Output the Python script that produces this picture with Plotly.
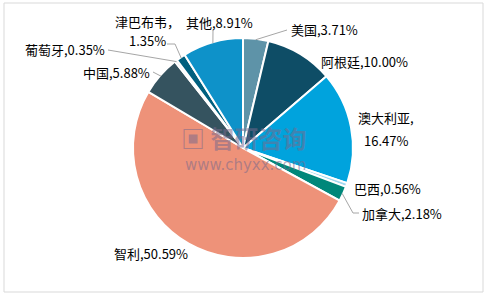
import math
import plotly.graph_objects as go

countries = ["美国", "阿根廷", "澳大利亚", "巴西", "加拿大", "智利", "中国", "葡萄牙", "津巴布韦", "其他"]
shares = [3.71, 10.00, 16.47, 0.56, 2.18, 50.59, 5.88, 0.35, 1.35, 8.91]
colors = ["#5E93A8", "#0E4D66", "#00A3DD", "#A0D8EF", "#00877A",
          "#EE9279", "#35535F", "#C8DCE6", "#00607F", "#0E92C9"]

W, H = 488, 297
CX, CY, R = 243, 148, 110

# label layout (pixel positions of text, anchor, optional second-line gap, leader end points)
label_layout = {
    "美国": dict(x=289, y=29, xa="left", sep=",", line=[(287, 30)]),
    "阿根廷": dict(x=319, y=61, xa="left", sep=","),
    "澳大利亚": dict(x=386, y=129, xa="center", sep=",", gap=22),
    "巴西": dict(x=352, y=188, xa="left", sep=","),
    "加拿大": dict(x=360, y=213, xa="left", sep=",", line=[(353, 213), (359, 213)]),
    "智利": dict(x=151, y=253, xa="center", sep=","),
    "中国": dict(x=152, y=72, xa="right", sep=",", line=[(153, 72)]),
    "葡萄牙": dict(x=107, y=49, xa="right", sep=",", line=[(108, 50)]),
    "津巴布韦": dict(x=147, y=31, xa="center", sep="，", gap=19, line=[(175, 44), (167, 44)]),
    "其他": dict(x=184, y=22, xa="left", sep=",", line=[(213, 30)]),
}

def px(x, y):
    return x / W, 1 - y / H

fig = go.Figure(go.Pie(
    labels=countries, values=shares, sort=False, direction="clockwise", rotation=0,
    marker=dict(colors=colors, line=dict(color="white", width=2)),
    textinfo="none", hoverinfo="label+percent", showlegend=False,
    domain=dict(x=[(CX - R) / W, (CX + R) / W], y=[1 - (CY + R) / H, 1 - (CY - R) / H]),
))

font = dict(family="Noto Sans CJK SC", size=13, color="#000000")
annotations = []
shapes = []
cum = 0.0
total = sum(shares)
for name, v in zip(countries, shares):
    mid = (cum + v / 2) / total * 2 * math.pi
    cum += v
    L = label_layout[name]
    if "gap" in L:
        parts = [(f"{name}{L['sep']}", L["y"] - L["gap"] / 2), (f"{v:.2f}%", L["y"] + L["gap"] / 2)]
    else:
        parts = [(f"{name}{L['sep']}{v:.2f}%", L["y"])]
    for txt, yy in parts:
        ax, ay = px(L["x"], yy)
        annotations.append(dict(
            x=ax, y=ay, xref="paper", yref="paper", xanchor=L["xa"], yanchor="middle",
            text=txt, showarrow=False, font=font,
        ))
    if "line" in L:
        ex = CX + (R - 1) * math.sin(mid)
        ey = CY - (R - 1) * math.cos(mid)
        pts = [(ex, ey)] + L["line"]
        for (x0, y0), (x1, y1) in zip(pts[:-1], pts[1:]):
            p0 = px(x0, y0); p1 = px(x1, y1)
            shapes.append(dict(type="line", xref="paper", yref="paper",
                               x0=p0[0], y0=p0[1], x1=p1[0], y1=p1[1],
                               line=dict(color="#A6A6A6", width=1)))

# watermark
wx, wy = px(243, 137)
annotations.append(dict(x=wx, y=wy, xref="paper", yref="paper", showarrow=False,
                        text="<b>▣ 智研咨询</b>",
                        font=dict(family="Noto Sans CJK SC", size=24, color="rgba(120,105,140,0.55)")))
wx2, wy2 = px(245, 165)
annotations.append(dict(x=wx2, y=wy2, xref="paper", yref="paper", showarrow=False,
                        text="www.chyxx.com",
                        font=dict(family="DejaVu Sans", size=15, color="rgba(120,105,140,0.55)")))

b0 = px(4, 3); b1 = px(483, 292)
shapes.append(dict(type="rect", xref="paper", yref="paper", x0=b0[0], y0=b1[1], x1=b1[0], y1=b0[1],
                   line=dict(color="#D9D9D9", width=1), fillcolor="rgba(0,0,0,0)", layer="below"))

fig.update_layout(width=W, height=H, margin=dict(l=0, r=0, t=0, b=0),
                  paper_bgcolor="white", plot_bgcolor="white",
                  annotations=annotations, shapes=shapes)
fig.write_html("out.html")
